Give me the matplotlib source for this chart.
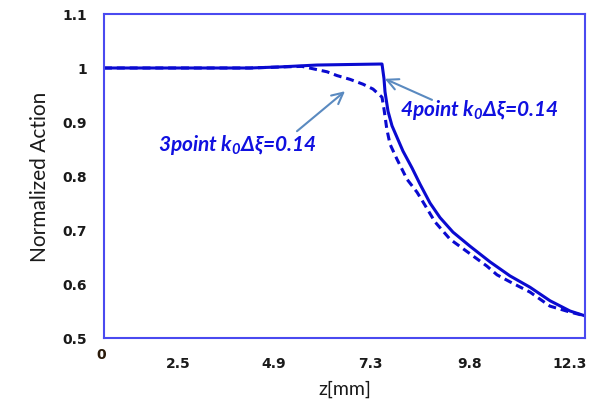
import matplotlib
matplotlib.use("Agg")
import matplotlib.pyplot as plt

plt.rcParams['mathtext.fontset'] = 'custom'
plt.rcParams['mathtext.rm'] = 'Lato:italic:bold'
plt.rcParams['mathtext.it'] = 'Lato:italic:bold'

# 4point k0Δξ=0.14 (solid)
z4 = [0.65, 4.3, 5.05, 5.975, 6.8, 7.6, 7.65, 7.675, 7.75, 7.85, 8.125, 8.35, 8.55,
      8.8, 9.05, 9.375, 9.8, 10.3, 10.8, 11.3, 11.8, 12.3, 12.675]
a4 = [1.0, 1.0, 1.002, 1.0055, 1.0065, 1.0074, 0.98, 0.956, 0.92, 0.893, 0.846, 0.815, 0.785,
      0.750, 0.723, 0.696, 0.670, 0.641, 0.615, 0.594, 0.569, 0.550, 0.541]
# 3point k0Δξ=0.14 (dashed)
z3 = [0.65, 4.3, 5.125, 5.6, 5.975, 6.225, 6.475, 6.8, 7.125, 7.375, 7.6, 7.65, 7.72, 7.8, 7.975,
      8.225, 8.475, 8.625, 8.925, 9.3, 9.8, 10.225, 10.475, 10.8, 11.3, 11.8, 12.3, 12.675]
a3 = [1.0, 1.0, 1.002, 1.003, 0.997, 0.993, 0.986, 0.979, 0.970, 0.961, 0.946, 0.924, 0.887, 0.859, 0.831,
      0.794, 0.770, 0.752, 0.715, 0.683, 0.656, 0.633, 0.617, 0.604, 0.585, 0.559, 0.548, 0.541]

xticks = [2.5, 4.9, 7.3, 9.8, 12.3]
xticklabels = ["2.5", "4.9", "7.3", "9.8", "12.3"]
yticks = [0.5, 0.6, 0.7, 0.8, 0.9, 1.0, 1.1]
yticklabels = ["0.5", "0.6", "0.7", "0.8", "0.9", "1", "1.1"]

fig = plt.figure(figsize=(5.92, 4.10), dpi=100)
ax = fig.add_axes([104/592, 1-339/410, (585-104)/592, (339-15)/410])

line_c = '#0a0ad0'
ax.plot(z4, a4, color=line_c, lw=2.2, solid_joinstyle='round')
ax.plot(z3, a3, color=line_c, lw=2.2, linestyle=(0, (2.6, 1.6)))

ax.set_xlim(0.65, 12.675)
ax.set_ylim(0.5, 1.1)
ax.set_xticks(xticks)
ax.set_xticklabels(xticklabels)
ax.set_yticks(yticks)
ax.set_yticklabels(yticklabels)
ax.tick_params(axis='both', length=0)
ax.tick_params(axis='y', pad=12)
ax.tick_params(axis='x', pad=13)
for lab in ax.get_yticklabels() + ax.get_xticklabels():
    lab.set_fontfamily('DejaVu Sans')
    lab.set_fontweight('bold')
    lab.set_fontsize(10)
    lab.set_color('#1a1a1a')

for s in ax.spines.values():
    s.set_color('#4a4af0')
    s.set_linewidth(1.5)

ax.text(-0.005, -0.05, "0", transform=ax.transAxes, ha='center', va='center',
        fontsize=10, fontweight='bold', family='DejaVu Sans', color='#2a1a0a')

ax.set_xlabel("z[mm]", family='Lato', fontsize=14, color='#1a1a1a', labelpad=7)
ax.set_ylabel("Normalized Action", family='Lato', fontsize=15, color='#1a1a1a', labelpad=9)

txt_c = '#1010e0'
arrow_c = '#5a8ac0'
ax.annotate("", xy=(7.67, 0.98), xytext=(8.85, 0.941),
            arrowprops=dict(arrowstyle='->,head_length=0.8,head_width=0.4', color=arrow_c, lw=1.5,
                            shrinkA=0, shrinkB=0))
ax.annotate("", xy=(6.675, 0.957), xytext=(5.475, 0.883),
            arrowprops=dict(arrowstyle='->,head_length=0.8,head_width=0.4', color=arrow_c, lw=1.5,
                            shrinkA=0, shrinkB=0))
ax.text(8.05, 0.924, r"4point k$_0$Δξ=0.14", family='Lato', style='italic', fontweight='bold',
        fontsize=15, color=txt_c, ha='left', va='center')
ax.text(2.0, 0.859, r"3point k$_0$Δξ=0.14", family='Lato', style='italic', fontweight='bold',
        fontsize=15, color=txt_c, ha='left', va='center')

fig.savefig("out.png", dpi=100)
